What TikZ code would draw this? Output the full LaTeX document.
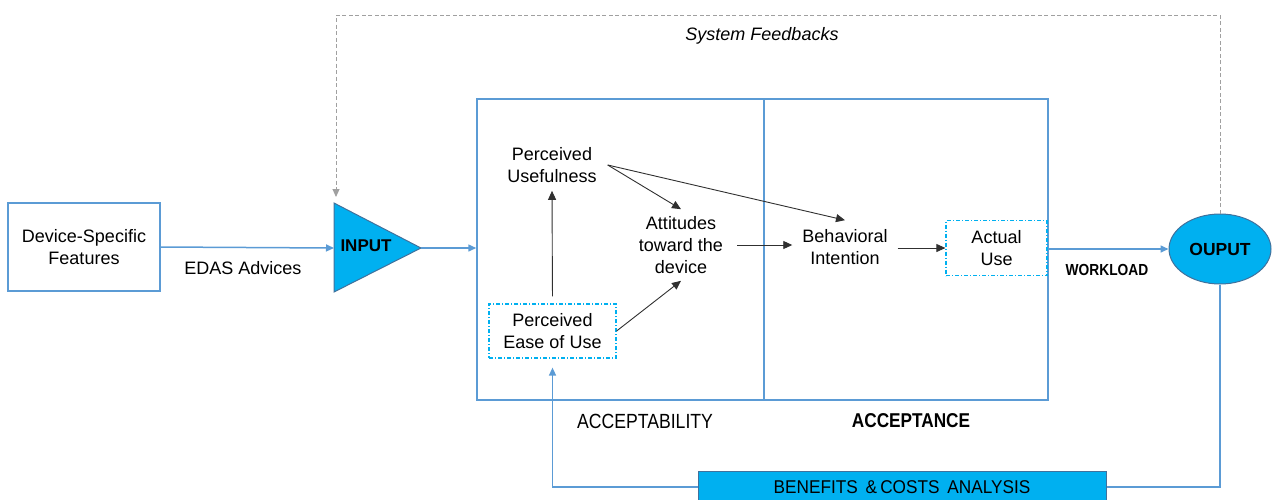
\documentclass[tikz,border=0pt]{standalone}
\usepackage{fontspec}
\setmainfont{Liberation Sans}
\newfontfamily\narrowfont[FakeStretch=0.86]{Liberation Sans}
\newfontfamily\semifont[FakeStretch=0.93]{Liberation Sans}
\usetikzlibrary{arrows.meta,shapes.geometric}
\definecolor{lineblue}{HTML}{5B9BD5}
\definecolor{fillcyan}{HTML}{00B0F0}
\definecolor{edgeblue}{HTML}{41719C}
\definecolor{fbgray}{HTML}{A0A0A0}
\definecolor{arrowgray}{HTML}{303030}
\tikzset{
  every node/.style={font=\fontsize{18}{22}\selectfont, align=center},
  bluebox/.style={draw=lineblue, line width=1.5pt, inner sep=0pt},
  dashdotbox/.style={draw=fillcyan, line width=1.2pt, dash pattern=on 4pt off 2pt on 1pt off 2pt, inner sep=0pt},
  blueflow/.style={draw=lineblue, line width=1.5pt},
  bluearrow/.style={blueflow, -{Triangle[length=8pt,width=7pt]}},
  blackarrow/.style={draw=arrowgray, line width=0.9pt, -{Triangle[length=9pt,width=8pt]}},
  feedback/.style={draw=fbgray, line width=1pt, dash pattern=on 4pt off 2.5pt, -{Triangle[length=8pt,width=7pt]}},
  caps/.style={font=\narrowfont\fontsize{20.5}{22}\selectfont},
  boldcaps/.style={font=\narrowfont\bfseries\fontsize{20}{22}\selectfont},
}
\begin{document}
\begin{tikzpicture}[x=1pt,y=-1pt]
\useasboundingbox (0,0) rectangle (1272,499);
\clip (0,0) rectangle (1272,499);

% left source box
\node[bluebox, minimum width=152pt, minimum height=88pt] (dev) at (84,247) {Device-Specific\\Features};

% INPUT triangle
\filldraw[fill=fillcyan, draw=edgeblue, line width=1pt] (334,203) -- (421,248) -- (334,292) -- cycle;
\coordinate (inW) at (334,248);
\coordinate (inE) at (421,248);
\coordinate (inN) at (336,197);
\node[font=\bfseries\fontsize{17}{20}\selectfont] (inp) at (366,246) {INPUT};

% acceptability / acceptance frames
\node[bluebox, minimum width=287pt, minimum height=301pt] (accy) at (620.5,249.5) {};
\node[bluebox, minimum width=284pt, minimum height=301pt] (acce) at (906,249.5) {};

% model constructs
\node[inner xsep=11pt, inner ysep=6pt] (pu) at (552,165) {Perceived\\Usefulness};
\node[dashdotbox, minimum width=127pt, minimum height=54pt] (peu) at (552.5,331) {Perceived\\Ease of Use};
\node[inner xsep=14pt, inner ysep=7pt] (att) at (681,245) {Attitudes\\toward the\\device};
\node[inner xsep=10pt, inner ysep=9pt] (bi) at (845,247) {Behavioral\\Intention};
\node[dashdotbox, minimum width=101pt, minimum height=55pt] (au) at (996.5,248) {Actual\\Use};

% OUPUT ellipse
\node[ellipse, fill=fillcyan, draw=edgeblue, line width=1pt, minimum width=102pt, minimum height=70pt,
      font=\bfseries\fontsize{17.5}{20}\selectfont] (out) at (1220,249) {OUPUT};

% benefits and costs bar
\node[fill=fillcyan, draw=edgeblue, line width=1pt, minimum width=408pt, minimum height=32pt,
      font=\semifont\fontsize{18.5}{20}\selectfont] (ben) at (902,487) {BENEFITS \,\&\,COSTS \,ANALYSIS};

% main flow
\draw[bluearrow] (dev.east) -- (inW);
\node (edas) at (243,268) {EDAS Advices};
\draw[bluearrow] (inE) -- (accy.west |- inE);
\draw[bluearrow] (au.east |- out.west) -- (out.west);
\node[font=\narrowfont\bfseries\fontsize{16}{18}\selectfont] (wl) at (1107,270) {WORKLOAD};

% links between constructs
\draw[blackarrow, shorten <=7pt, shorten >=2pt] (peu.north) -- (pu.south);
\draw[blackarrow] (pu.east) -- (att.north);
\draw[blackarrow] (pu.east) -- (bi.north);
\draw[blackarrow] (peu.east) -- (att.south);
\draw[blackarrow] (att.east) -- (bi.west |- att.east);
\draw[blackarrow] (bi.east |- au.west) -- (au.west);

% section labels
\node[caps] (lacy) at (645,421) {ACCEPTABILITY};
\node[boldcaps] (lace) at (911,421) {ACCEPTANCE};

% system feedback loop
\draw[feedback] (out.north) -- (out.north |- 0,15) -| (inN);
\node[font=\itshape\fontsize{18}{22}\selectfont] (fb) at (762,36) {System Feedbacks};

% benefits loop back to ease of use
\draw[blueflow] (out.south) |- (ben.east);
\draw[bluearrow, shorten >=9pt] (ben.west) -| (peu.south);
\end{tikzpicture}
\end{document}
